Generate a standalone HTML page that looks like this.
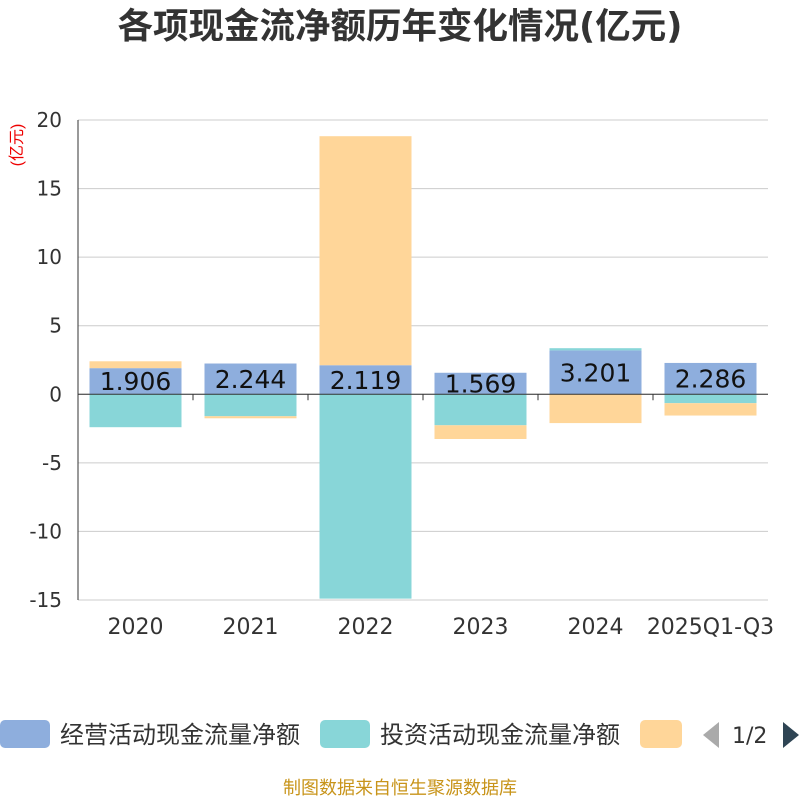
<!DOCTYPE html>
<html><head><meta charset="utf-8"><style>
body{margin:0;background:#fff;font-family:"Liberation Sans","Noto Sans CJK SC",sans-serif}
</style></head><body>
<svg id="c" width="800" height="800" xmlns="http://www.w3.org/2000/svg">
<text x="400" y="38" text-anchor="middle" font-size="35.5" font-weight="bold" fill="#333" font-family="DejaVu Sans,Noto Sans CJK SC,sans-serif">各项现金流净额历年变化情况(亿元)</text>
<text transform="translate(22,145) rotate(-90)" text-anchor="middle" font-size="16" fill="#e00" font-family="Liberation Sans,Noto Sans CJK SC,sans-serif">(亿元)</text>
<g id="grid"></g><g id="bars"></g><g id="axes"></g>
<g font-family="DejaVu Sans,Noto Sans CJK SC,sans-serif" font-size="24" fill="#333">
<rect x="0" y="720" width="50" height="28" rx="5" fill="#8eaedd"/>
<text x="60" y="743">经营活动现金流量净额</text>
<rect x="320" y="720" width="50" height="28" rx="5" fill="#88d6d8"/>
<text x="380" y="743">投资活动现金流量净额</text>
<rect x="640" y="720" width="42" height="28" rx="5" fill="#ffd699"/>
<path d="M719,722 L703,735 L719,748Z" fill="#aaa"/>
<text x="732" y="743" font-size="22">1/2</text>
<path d="M783,722 L799,735 L783,748Z" fill="#2f4554"/>
</g>
<text x="400" y="794" text-anchor="middle" font-size="18" fill="#c8941a" font-family="Liberation Sans,Noto Sans CJK SC,sans-serif">制图数据来自恒生聚源数据库</text>
</svg>
<script>
const categories=["2020","2021","2022","2023","2024","2025Q1-Q3"];
const operating=[1.906,2.244,2.119,1.569,3.201,2.286];
const investing=[-2.4,-1.6,-14.9,-2.26,0.16,-0.65];
const financing=[0.5,-0.15,16.7,-1.0,-2.1,-0.9];
const yTicks=[-15,-10,-5,0,5,10,15,20];
const NS="http://www.w3.org/2000/svg";
const L=78,R=768,T=120,B=600,ymin=-15,ymax=20;
const y=v=>T+(ymax-v)/(ymax-ymin)*(B-T);
const bw=(R-L)/categories.length;
const x=i=>L+bw*i;
const F='DejaVu Sans,sans-serif';
function mk(p,tag,a){const e=document.createElementNS(NS,tag);for(const k in a)e.setAttribute(k,a[k]);document.getElementById(p).appendChild(e);return e;}
yTicks.forEach(t=>{
 const g=mk('grid','line',{x1:L,x2:R,y1:y(t),y2:y(t),stroke:'#ccc','stroke-width':1});
 
 
 const tx=mk('axes','text',{x:L-16,y:y(t)+7,'text-anchor':'end','font-size':20,fill:'#333','font-family':F});
 tx.textContent=t;
 
 
});
const ya=mk('axes','line',{x1:L,x2:L,y1:T,y2:B,stroke:'#333'});


const xa=mk('axes','line',{x1:L,x2:R,y1:y(0),y2:y(0),stroke:'#333'});


categories.forEach((c,i)=>{
 const tk=mk('axes','line',{x1:x(i),x2:x(i),y1:y(0),y2:y(0)+6,stroke:'#333'});
 
 
 const tx=mk('axes','text',{x:x(i)+bw/2,y:634,'text-anchor':'middle','font-size':22,fill:'#333','font-family':F});
 tx.textContent=c;
 
 
});
const series=[[operating,'#8eaedd','bar-operating'],[investing,'#88d6d8','bar-investing'],[financing,'#ffd699','bar-financing']];
const pos=categories.map(()=>0),neg=categories.map(()=>0);
series.forEach(([vals,col,name])=>{
 vals.forEach((v,i)=>{
  let a,b;
  if(v>=0){a=pos[i];b=a+v;pos[i]=b;}else{a=neg[i];b=a+v;neg[i]=b;}
  const r=mk('bars','rect',{x:x(i)+(bw-92)/2,width:92,y:Math.min(y(a),y(b)),height:Math.abs(y(a)-y(b)),fill:col});
  
  
 });
});
operating.forEach((v,i)=>{
 const tx=mk('bars','text',{x:x(i)+bw/2,y:y(v/2)+9,'text-anchor':'middle','font-size':25,fill:'#111','font-family':F});
 tx.textContent=v.toFixed(3);
 
 
});
</script>
</body></html>
